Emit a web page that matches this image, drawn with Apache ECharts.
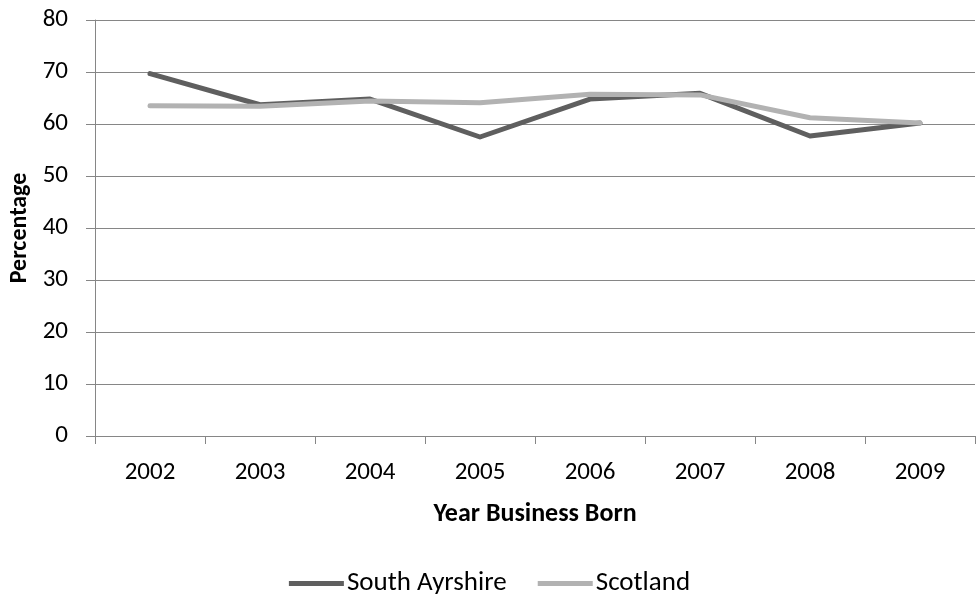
<!DOCTYPE html>
<html><head><meta charset="utf-8">
<script src="https://cdn.jsdelivr.net/npm/echarts@6/dist/echarts.min.js"></script>
<style>html,body{margin:0;padding:0;background:#fff}#c{width:979px;height:595px}</style>
</head><body><div id="c"></div>
<script>
const years = ['2002','2003','2004','2005','2006','2007','2008','2009'];
const southAyrshire = [69.7, 63.7, 64.8, 57.5, 64.8, 65.9, 57.7, 60.2];
const scotland = [63.5, 63.4, 64.4, 64.1, 65.7, 65.6, 61.2, 60.2];
const yTicks = {min: 0, max: 80, interval: 10};
const FONT = 'Carlito, Calibri, Lato, "Liberation Sans", sans-serif';
const chart = echarts.init(document.getElementById('c'));
chart.setOption({
  animation: false,
  textStyle: {fontFamily: FONT},
  grid: {left: 95, right: 4, top: 20, bottom: 159, containLabel: false, outerBoundsMode: 'none'},
  legend: {
    top: 565, left: 'center', itemWidth: 55, itemHeight: 5, itemGap: 31,
    icon: 'rect',
    textStyle: {fontFamily: FONT, fontSize: 27, color: '#000', padding: [0,0,0,-2]},
    data: ['South Ayrshire', 'Scotland']
  },
  xAxis: {
    type: 'category', data: years, boundaryGap: true,
    name: 'Year Business Born', nameLocation: 'middle', nameGap: 65,
    nameTextStyle: {fontFamily: FONT, fontSize: 26, fontWeight: 'bold', color: '#000'},
    axisLine: {lineStyle: {color: '#868686', width: 1}},
    axisTick: {show: true, length: 8, lineStyle: {color: '#868686'}},
    axisLabel: {fontFamily: FONT, fontSize: 25, color: '#000', margin: 24}
  },
  yAxis: {
    type: 'value', min: yTicks.min, max: yTicks.max, interval: yTicks.interval,
    name: 'Percentage', nameLocation: 'middle', nameGap: 63, nameRotate: 90,
    nameTextStyle: {fontFamily: FONT, fontSize: 24, fontWeight: 'bold', color: '#000'},
    axisLine: {show: true, lineStyle: {color: '#868686', width: 1}},
    axisTick: {show: true, length: 9, lineStyle: {color: '#868686'}},
    axisLabel: {fontFamily: FONT, fontSize: 25, color: '#000', margin: 27},
    splitLine: {lineStyle: {color: '#868686', width: 1}}
  },
  series: [
    {name: 'South Ayrshire', type: 'line', data: southAyrshire, symbol: 'none',
     color: '#5f5f5f', lineStyle: {width: 5, color: '#5f5f5f', cap: 'round', join: 'round'}},
    {name: 'Scotland', type: 'line', data: scotland, symbol: 'none',
     color: '#b2b2b2', lineStyle: {width: 5, color: '#b2b2b2', cap: 'round', join: 'round'}}
  ]
});
</script></body></html>
